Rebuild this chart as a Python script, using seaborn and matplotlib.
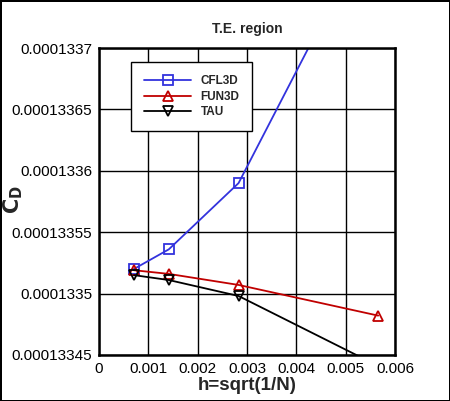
import numpy as np
import pandas as pd
import matplotlib
matplotlib.use("Agg")
import matplotlib.pyplot as plt
from matplotlib.ticker import AutoMinorLocator
import seaborn as sns

h = [0.000707, 0.001414, 0.002828, 0.005657]
cfl3d = [0.00013352, 0.000133536, 0.00013359, 0.00013381]
fun3d = [0.000133519, 0.000133516, 0.000133507, 0.000133482]
tau = [0.000133515, 0.000133511, 0.000133498, 0.000133441]

series_names = ['CFL3D', 'FUN3D', 'TAU']
series_colors = ['#3333dd', '#c00000', 'black']
series_markers = ['s', '^', 'v']

x_ticks = [0, 0.001, 0.002, 0.003, 0.004, 0.005, 0.006]
x_labels = ['0', '0.001', '0.002', '0.003', '0.004', '0.005', '0.006']
y_ticks = [0.00013345, 0.0001335, 0.00013355, 0.0001336, 0.00013365, 0.0001337]
y_labels = ['0.00013345', '0.0001335', '0.00013355', '0.0001336', '0.00013365', '0.0001337']


def main():
    sns.set_style('white')
    plt.rcParams['font.family'] = ['Liberation Sans', 'DejaVu Sans']

    fig = plt.figure(figsize=(4.5, 4.01), dpi=100)
    ax = fig.add_axes([0.22, 0.115, 0.658, 0.765])

    for name, vals, col, mk in zip(series_names, [cfl3d, fun3d, tau], series_colors, series_markers):
        sns.lineplot(x=h, y=vals, ax=ax, color=col, marker=mk, markersize=7,
                     markerfacecolor='none', markeredgecolor=col, markeredgewidth=1.3,
                     linewidth=1.3, label=name)

    ax.set_xlim(0, 0.006)
    ax.set_ylim(0.00013345, 0.0001337)
    ax.set_xticks(x_ticks)
    ax.set_xticklabels(x_labels)
    ax.set_yticks(y_ticks)
    ax.set_yticklabels(y_labels)
    ax.xaxis.set_minor_locator(AutoMinorLocator(5))
    ax.yaxis.set_minor_locator(AutoMinorLocator(5))
    ax.tick_params(which='both', direction='in', colors='black', labelsize=11,
                   top=False, right=False)
    ax.tick_params(which='major', length=7, width=1, pad=5)
    ax.tick_params(which='minor', length=4, width=1)
    ax.grid(True, which='major', color='black', linewidth=1)
    for sp in ax.spines.values():
        sp.set_color('black')
        sp.set_linewidth(1.8)

    ax.set_title('T.E. region', fontsize=10, fontweight='bold', pad=11)
    ax.set_xlabel('h=sqrt(1/N)', fontsize=13.5, fontweight='bold', labelpad=1)
    ax.set_ylabel(r'$\mathbf{C_D}$', fontsize=15)
    ax.yaxis.set_label_coords(-0.25, 0.505)

    leg = ax.legend(loc='upper left', bbox_to_anchor=(0.108, 0.954), borderaxespad=0,
                    fancybox=False, framealpha=1, edgecolor='black', handlelength=4.0,
                    prop={'weight': 'bold', 'size': 8.5}, borderpad=1.1, labelspacing=0.3,
                    handletextpad=0.8)
    leg.get_frame().set_linewidth(1)

    fig.patch.set_edgecolor('black')
    fig.patch.set_linewidth(2)
    fig.savefig('out.png', dpi=100)


if __name__ == '__main__':
    main()
